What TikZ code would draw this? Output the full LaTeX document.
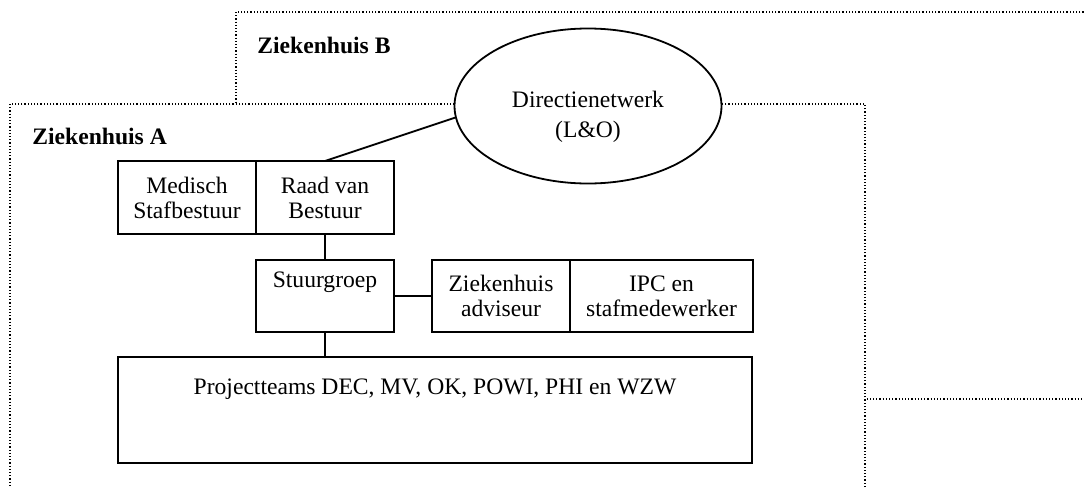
\documentclass[tikz,border=0pt]{standalone}
\usepackage{fontspec}
\setmainfont{Liberation Serif}
\usetikzlibrary{positioning,shapes.geometric}

\begin{document}
\begin{tikzpicture}[x=0.5pt, y=-0.5pt,
    every node/.style={font=\fontsize{11.8}{12.5}\selectfont},
    frame/.style={densely dotted, line width=0.6pt},
    kop/.style={font=\fontsize{11.8}{12.5}\selectfont\bfseries, anchor=base west, inner sep=0pt},
    orgbox/.style={draw, line width=0.9pt, align=center, inner sep=0pt, outer sep=0pt, minimum height=36.5pt},
    netwerk/.style={draw, ellipse, fill=white, line width=0.9pt, inner sep=0pt, minimum width=133.5pt, minimum height=77.5pt},
    verbinding/.style={line width=0.9pt}]
    \useasboundingbox (0,0) rectangle (1084,488);
    \clip (0,0) rectangle (1084,488);

    % Hospital frames
    \draw[frame] (236,12) rectangle (1100,399);
    \draw[frame, fill=white] (10,104) rectangle (865,500);
    \node[kop] (labelB) at (257,53) {Ziekenhuis B};
    \node[kop] (labelA) at (32,144) {Ziekenhuis A};

    % Management network
    \node[netwerk] (net) at (588,106) {};
    \node[align=center] (nettekst) at (588,117) {Directienetwerk\\[2.5pt](L\&O)};

    % Boards
    \node[orgbox, minimum width=69pt] (medisch) at (187,197.5) {Medisch\\Stafbestuur};
    \node[orgbox, minimum width=69pt, right=0pt of medisch] (raad) {Raad van\\Bestuur};

    % Steering group and advisers
    \node[orgbox, minimum width=69pt, minimum height=36pt] (stuur) at (325,296) {Stuurgroep\\\strut};
    \node[orgbox, minimum width=69pt, minimum height=36pt] (zadv) at (501,296) {Ziekenhuis\\adviseur};
    \node[orgbox, minimum width=91.5pt, minimum height=36pt, right=0pt of zadv] (ipc) {IPC en\\stafmedewerker};

    % Project teams
    \node[orgbox, minimum width=317pt, minimum height=53pt] (proj) at (435,410) {};
    \node (projtekst) at (435,389) {Projectteams DEC, MV, OK, POWI, PHI en WZW};

    % Connections
    \draw[verbinding] (raad.north) -- (net.185);
    \draw[verbinding] (raad.south) -- (stuur.north);
    \draw[verbinding] (stuur.east) -- (zadv.west);
    \draw[verbinding] (stuur.south) -- (stuur.south |- proj.north);
\end{tikzpicture}
\end{document}
